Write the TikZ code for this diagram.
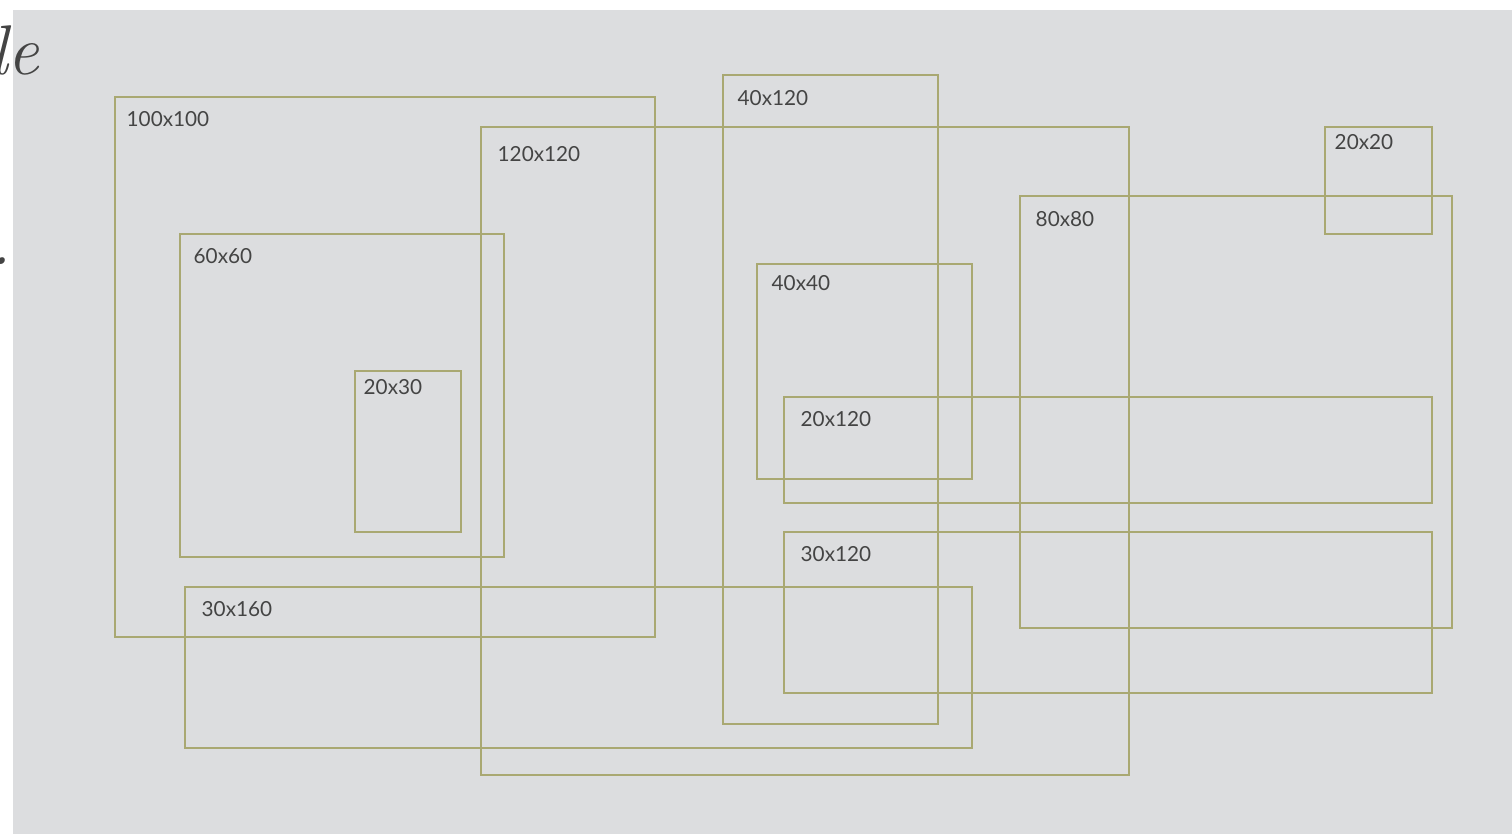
\documentclass[tikz,border=0pt]{standalone}
\usepackage{fontspec}
\newfontfamily\boxfont{Lato}
\definecolor{panelgray}{HTML}{DCDDDF}
\definecolor{olive}{HTML}{A9A872}
\definecolor{labelgray}{HTML}{444444}
\begin{document}
\begin{tikzpicture}[x=0.01cm, y=-0.01cm]
    % Define styles
    \tikzstyle{box} = [draw=olive, line width=0.3pt]
    \tikzstyle{boxlabel} = [anchor=west, inner sep=0pt, text=labelgray, font=\boxfont\fontsize{5.9}{7}\selectfont]
    \tikzstyle{cuttext} = [inner sep=0pt, text=labelgray, font=\itshape\fontsize{20}{24}\selectfont]

    % Canvas
    \useasboundingbox (0,0) rectangle (1512,834);
    \fill[white] (0,0) rectangle (1512,834);
    \fill[panelgray] (13,10) rectangle (1512,834);

    % Text cut off at the left edge
    \node[cuttext, anchor=base east] (title) at (40,75) {le};
    \node[cuttext, anchor=base west] (dot) at (-10,265) {.};

    % Place boxes: left/top/right/bottom/label/label x/label y
    \foreach \xa/\ya/\xb/\yb/\txt/\lx/\ly in {
        115/97/655/637/100x100/126/119,
        481/127/1129/775/120x120/497/154,
        723/75/938/724/40x120/737/98,
        1325/127/1432/234/20x20/1334/142,
        1020/196/1452/628/80x80/1035/219,
        180/234/504/557/60x60/193/256,
        355/371/461/532/20x30/363/387,
        757/264/972/479/40x40/771/283,
        784/397/1432/503/20x120/800/419,
        784/532/1432/693/30x120/800/554,
        185/587/972/748/30x160/201/609} {
        \draw[box] (\xa,\ya) rectangle (\xb,\yb);
        \node[boxlabel] (label-\txt) at (\lx,\ly) {\txt};
    }
\end{tikzpicture}
\end{document}
